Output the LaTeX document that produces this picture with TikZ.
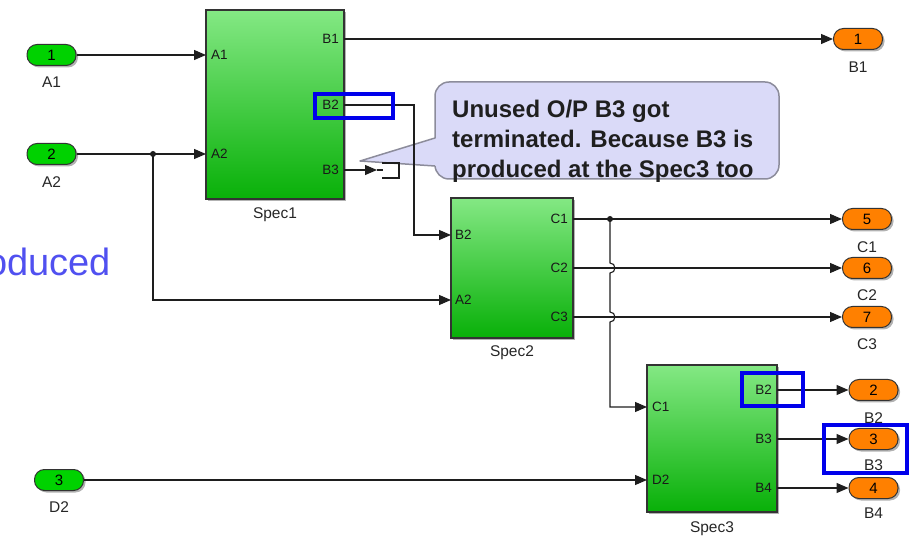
\documentclass[tikz,border=0pt]{standalone}
\usepackage{fontspec}
\setmainfont{Liberation Sans}
\usetikzlibrary{arrows.meta,shadows}
\definecolor{blkTop}{RGB}{132,232,132}
\definecolor{blkBot}{RGB}{8,176,8}
\definecolor{inFill}{RGB}{0,210,0}
\definecolor{outFill}{RGB}{255,128,0}
\definecolor{hiBlue}{RGB}{0,0,235}
\definecolor{callFill}{RGB}{218,218,248}
\definecolor{callLine}{RGB}{140,140,155}
\definecolor{bigBlue}{RGB}{80,80,240}
\definecolor{lineCol}{RGB}{30,30,30}
\begin{document}
\begin{tikzpicture}[x=1pt,y=-1pt,
  wire/.style={draw=lineCol,line width=1.1pt},
  arr/.style={wire,-{Triangle[length=12pt,width=10pt]}},
  shad/.style={drop shadow={shadow xshift=2pt,shadow yshift=-2pt,opacity=0.3,fill=black}},
  blk/.style={draw=black!80,line width=1.2pt,top color=blkTop,bottom color=blkBot,shad,inner sep=0pt},
  pill/.style={draw=black!80,line width=1pt,rounded corners=10pt,minimum width=49pt,minimum height=21pt,inner sep=0pt,font=\fontsize{15}{15}\selectfont,shad},
  inport/.style={pill,fill=inFill},
  outport/.style={pill,fill=outFill},
  lbl/.style={font=\fontsize{15.5}{16}\selectfont,text=black!85,inner sep=0pt},
  plbl/.style={font=\fontsize{13.5}{14}\selectfont,text=black!90,inner sep=0pt},
  dot/.style={circle,fill=lineCol,minimum size=6pt,inner sep=0pt},
  hilite/.style={draw=hiBlue,line width=4.5pt},
  callout/.style={fill=callFill,draw=callLine,line width=1.5pt}
]
\useasboundingbox (0,0) rectangle (919,537);

% blue partial text
\begin{scope}
\clip (0,0) rectangle (919,537);
\node[anchor=base east,text=bigBlue,font=\fontsize{38}{38}\selectfont,inner sep=0pt] (prod) at (111,276) {oduced};
\end{scope}

% callout
\draw[callout,rounded corners=14pt] (435,82) rectangle (779,179);
\fill[callFill] (437,138) -- (360,161) -- (437,166) -- cycle;
\draw[draw=callLine,line width=1.5pt,line join=round] (435,138) -- (360,161) -- (435,166);
\node[anchor=north west,align=left,inner sep=0pt,font=\fontsize{24}{30}\selectfont\bfseries,text=black!88] (note) at (452,99.5)
  {Unused O/P B3 got\\terminated. Because B3 is\\produced at the Spec3 too};

% blocks
\node[blk,minimum width=138pt,minimum height=189pt] (s1) at (275,104.5) {};
\node[blk,minimum width=122pt,minimum height=140pt] (s2) at (512,268) {};
\node[blk,minimum width=130pt,minimum height=147pt] (s3) at (712,438.5) {};
\node[lbl] (s1n) at (275,215) {Spec1};
\node[lbl] (s2n) at (512,353) {Spec2};
\node[lbl] (s3n) at (712,529) {Spec3};

% port coordinates
\coordinate (s1A1) at (206,55);
\coordinate (s1A2) at (206,154);
\coordinate (s1B1) at (344,39);
\coordinate (s1B2) at (344,105);
\coordinate (s1B3) at (344,170);
\coordinate (s2B2) at (451,235);
\coordinate (s2A2) at (451,300);
\coordinate (s2C1) at (573,219);
\coordinate (s2C2) at (573,268);
\coordinate (s2C3) at (573,317);
\coordinate (s3C1) at (647,407);
\coordinate (s3D2) at (647,480);
\coordinate (s3B2) at (777,390);
\coordinate (s3B3) at (777,439);
\coordinate (s3B4) at (777,488);

% port labels
\node[plbl,anchor=west] (p1) at ([xshift=5pt]s1A1) {A1};
\node[plbl,anchor=west] (p2) at ([xshift=5pt]s1A2) {A2};
\node[plbl,anchor=east] (p3) at ([xshift=-5pt]s1B1) {B1};
\node[plbl,anchor=east] (p4) at ([xshift=-5pt]s1B2) {B2};
\node[plbl,anchor=east] (p5) at ([xshift=-5pt]s1B3) {B3};
\node[plbl,anchor=west] (p6) at ([xshift=4pt]s2B2) {B2};
\node[plbl,anchor=west] (p7) at ([xshift=4pt]s2A2) {A2};
\node[plbl,anchor=east] (p8) at ([xshift=-5pt]s2C1) {C1};
\node[plbl,anchor=east] (p9) at ([xshift=-5pt]s2C2) {C2};
\node[plbl,anchor=east] (p10) at ([xshift=-5pt]s2C3) {C3};
\node[plbl,anchor=west] (p11) at ([xshift=5pt]s3C1) {C1};
\node[plbl,anchor=west] (p12) at ([xshift=5pt]s3D2) {D2};
\node[plbl,anchor=east] (p13) at ([xshift=-5pt]s3B2) {B2};
\node[plbl,anchor=east] (p14) at ([xshift=-5pt]s3B3) {B3};
\node[plbl,anchor=east] (p15) at ([xshift=-5pt]s3B4) {B4};

% inports
\node[inport] (in1) at (51.5,55) {1};
\node[inport] (in2) at (51.5,154) {2};
\node[inport] (in3) at (59,480) {3};
\node[lbl] (lin1) at (51.5,82) {A1};
\node[lbl] (lin2) at (51.5,182) {A2};
\node[lbl] (lin3) at (59,507) {D2};

% outports
\node[outport] (o1) at (858,39) {1};
\node[outport] (o5) at (867,219) {5};
\node[outport] (o6) at (867,268) {6};
\node[outport] (o7) at (867,317) {7};
\node[outport] (o2) at (873.5,390) {2};
\node[outport] (o3) at (873.5,439) {3};
\node[outport] (o4) at (873.5,488) {4};
\node[lbl] (lo1) at (858,67) {B1};
\node[lbl] (lo5) at (867,247) {C1};
\node[lbl] (lo6) at (867,295) {C2};
\node[lbl] (lo7) at (867,344) {C3};
\node[lbl] (lo2) at (873.5,418) {B2};
\node[lbl] (lo3) at (873.5,465) {B3};
\node[lbl] (lo4) at (873.5,513) {B4};

% wires
\draw[arr] (in1) -- (s1A1);
\draw[arr] (in2) -- (s1A2);
\node[dot] (j1) at (153,154) {};
\draw[arr] (j1.center) |- (s2A2);
\draw[arr] (s1B1) -- (o1);
\coordinate (k1) at (414,105);
\draw[arr] (s1B2) -- (k1) |- (s2B2);
\coordinate (t1) at (377,170);
\draw[arr] (s1B3) -- (t1);
\draw[wire] (t1) -- ++(6,0);
\draw[wire] (382,163) -- (399,163) -- (399,178) -- (382,178);
\draw[arr] (s2C1) -- (o5);
\draw[arr] (s2C2) -- (o6);
\draw[arr] (s2C3) -- (o7);
\node[dot] (j2) at (610,219) {};
\draw[arr] (j2.center) -- ++(0,44) arc[start angle=-90,end angle=90,radius=5] -- ++(0,39) arc[start angle=-90,end angle=90,radius=5] |- (s3C1);
\draw[arr] (in3) -- (s3D2);
\draw[arr] (s3B2) -- (o2);
\draw[arr] (s3B3) -- (o3);
\draw[arr] (s3B4) -- (o4);

% highlights
\draw[hilite] (315,94) rectangle (393,118);
\draw[hilite] (742,373) rectangle (803,406);
\draw[hilite] (824,425) rectangle (907,473);
\end{tikzpicture}
\end{document}
